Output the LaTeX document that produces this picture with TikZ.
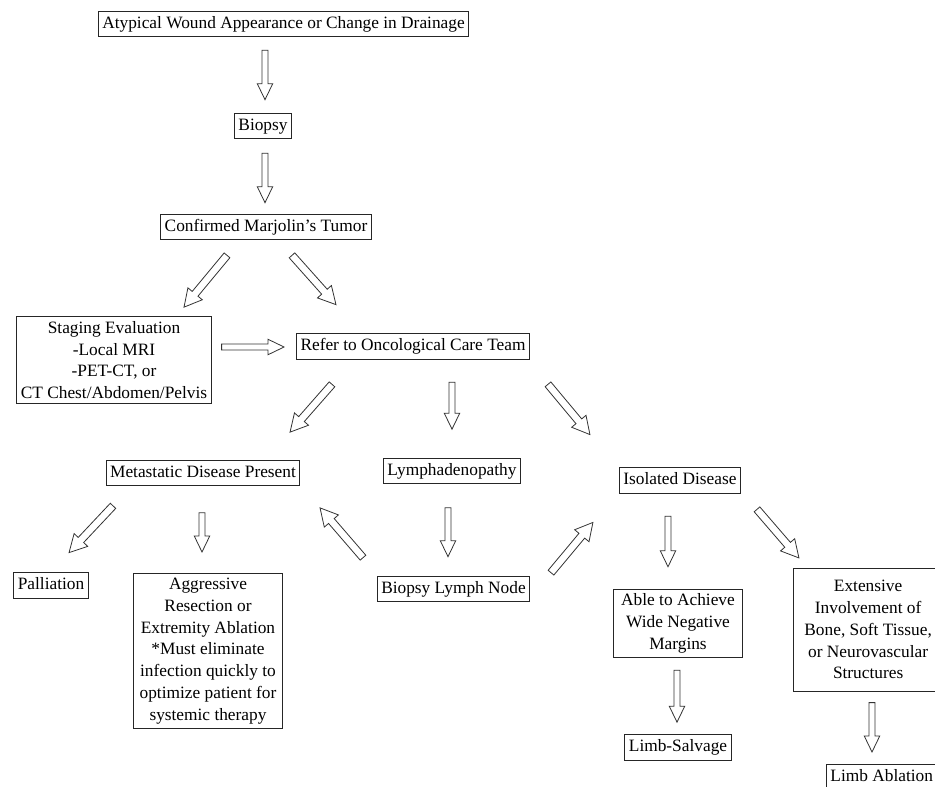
\documentclass[tikz,border=0pt]{standalone}
\usepackage{fontspec}
\setmainfont{Liberation Serif}
\usetikzlibrary{calc, positioning}

% hollow block arrow drawn between the two ends of a "to"
\newcommand{\blkshape}[3]{let \p1=(\tikztostart), \p2=(\tikztotarget),
  \n1={atan2(\y2-\y1,\x2-\x1)}, \n2={veclen(\x2-\x1,\y2-\y1)} in
  [shift={(\p1)}, rotate=\n1]
  (0pt,#1) -- ({\n2*1pt-#3},#1) -- ({\n2*1pt-#3},#2) -- ({\n2*1pt},0pt)
  -- ({\n2*1pt-#3},-#2) -- ({\n2*1pt-#3},-#1) -- (0pt,-#1) -- cycle}

\tikzset{
  box/.style={draw=black!85, line width=0.7pt, fill=white, inner xsep=3pt,
    inner ysep=3.5pt, font=\fontsize{13}{16.3}\selectfont, text=black,
    align=center},
  one/.style={text height=9.4pt, text depth=2.9pt},
  blk/.style={draw=black!80, fill=white, line width=0.6pt, line join=miter,
    to path={\blkshape{2.3pt}{5.8pt}{12pt}}},
  blkd/.style={draw=black!80, fill=white, line width=0.6pt, line join=miter,
    to path={\blkshape{2.8pt}{7pt}{13pt}}},
}

\begin{document}
\begin{tikzpicture}[x=0.75pt, y=-0.75pt]
  \useasboundingbox (0,0) rectangle (935,786);
  \clip (0,0) rectangle (935,786);

  % boxes
  \node[box, one] (atyp) at (283.5,24) {Atypical Wound Appearance or Change in Drainage};
  \node[box, one] (bio) at (263,126) {Biopsy};
  \node[box, one] (conf) at (266,227) {Confirmed Marjolin's Tumor};
  \node[box] (stag) at (114,360) {Staging Evaluation\\ -Local MRI\\ -PET-CT, or\\ CT Chest/Abdomen/Pelvis};
  \node[box, one] (refer) at (413,346.5) {Refer to Oncological Care Team};
  \node[box, one] (meta) at (203,473) {Metastatic Disease Present};
  \node[box, one] (lymph) at (452,471) {Lymphadenopathy};
  \node[box, one] (iso) at (680,480.5) {Isolated Disease};
  \node[box, one] (pall) at (51,585.5) {Palliation};
  \node[box, anchor=north, minimum width=112pt] (aggr) at (208,573)
    {Aggressive\\ Resection or\\ Extremity Ablation\\ *Must eliminate\\ infection quickly to\\ optimize patient for\\ systemic therapy};
  \node[box, one] (bln) at (453.5,589) {Biopsy Lymph Node};
  \node[box, minimum width=97pt] (able) at (678,623.5) {Able to Achieve\\ Wide Negative\\ Margins};
  \node[box, anchor=north west, minimum width=112pt, minimum height=92pt] (ext) at (793,568)
    {Extensive\\ Involvement of\\ Bone, Soft Tissue,\\ or Neurovascular\\ Structures};
  \node[box, one] (ls) at (678,747.5) {Limb-Salvage};
  \node[box, one, anchor=north west] (la) at (826,764) {Limb Ablation};

  % arrows
  \path[blk] ($(atyp.south)+(-18.5,13)$) to ($(bio.north)+(2,-13)$);
  \path[blk] ($(bio.south)+(2,14)$) to ($(conf.north)+(-1,-11)$);
  \path[blkd] ($(conf.south)+(-39,15)$) to ($(stag.north)+(70,-9)$);
  \path[blkd] ($(conf.south)+(26,15)$) to ($(refer.north)+(-77,-28.5)$);
  \path[blk] ($(stag.east)+(10,-13)$) to ($(refer.west)+(-12,0.5)$);
  \path[blkd] ($(refer.south)+(-81,24.5)$) to ($(meta.north)+(87,-27.5)$);
  \path[blk] ($(refer.south)+(39,22.5)$) to ($(lymph.north)+(0,-28.5)$);
  \path[blkd] ($(refer.south)+(135,24.5)$) to ($(iso.north)+(-90,-32.5)$);
  \path[blkd] ($(meta.south)+(-90,19.5)$) to ($(pall.north)+(18,-19.5)$);
  \path[blk] ($(meta.south)+(-1,26.5)$) to ($(aggr.north)+(-6,-21)$);
  \path[blkd] ($(bln.north)+(-90.5,-18)$) to ($(meta.south)+(117,21.5)$);
  \path[blk] ($(lymph.south)+(-4,23.5)$) to ($(bln.north)+(-5.5,-19)$);
  \path[blkd] ($(bln.north)+(97.5,-3)$) to ($(iso.south)+(-87,28.5)$);
  \path[blk] ($(iso.south)+(-12,22.5)$) to ($(able.north)+(-10,-22)$);
  \path[blkd] ($(iso.south)+(77,15.5)$) to ($(ext.north west)+(6,-10)$);
  \path[blk] ($(able.south)+(-1,12)$) to ($(ls.north)+(-1,-12)$);
  \path[blk] ($(ext.south west)+(79,11)$) to ($(la.north west)+(46,-12)$);
\end{tikzpicture}
\end{document}
